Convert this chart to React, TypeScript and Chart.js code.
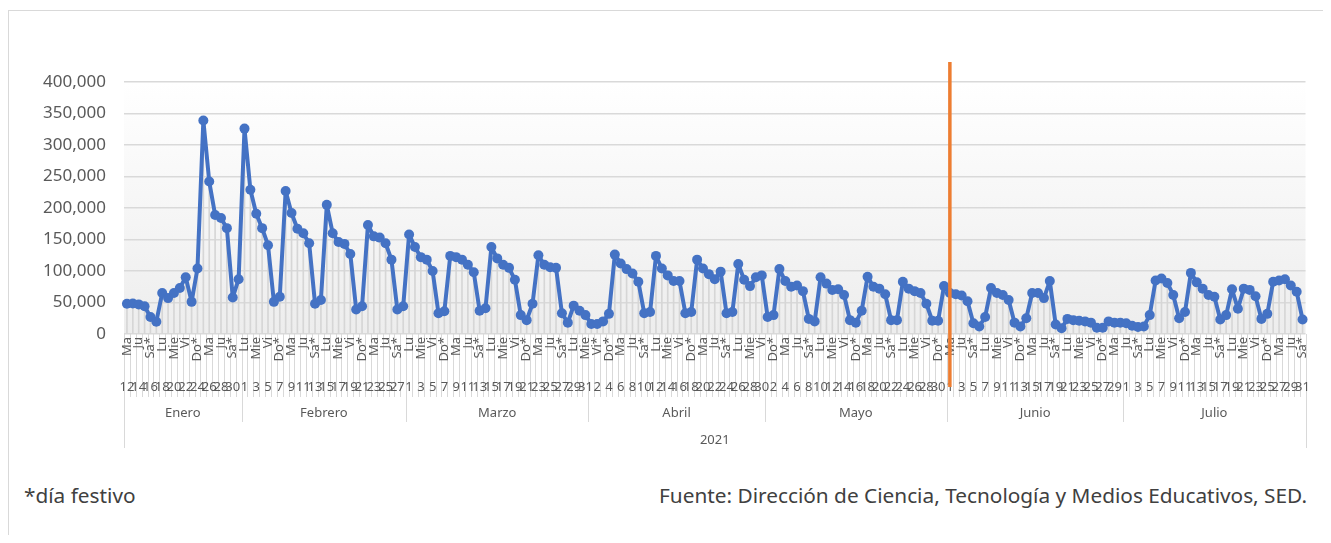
import React, { useEffect, useRef } from 'react';
import { Chart, registerables } from 'chart.js';

Chart.register(...registerables);

// ---------- categories ----------
const YEAR = '2021';
const MONTH_NAMES = ['Enero', 'Febrero', 'Marzo', 'Abril', 'Mayo', 'Junio', 'Julio'];
const MONTH_INDEX = [0, 1, 2, 3, 4, 5, 6];
const MONTH_FIRST_DAY = [12, 1, 1, 1, 1, 1, 1];
const MONTH_LAST_DAY = [31, 28, 31, 30, 31, 30, 31];
// indexed by Date.getDay()
const WEEKDAY_NAMES = ['Do*', 'Lu', 'Ma', 'Mie', 'Ju', 'Vi', 'Sa*'];
// weekday holidays whose label carries an asterisk
const FESTIVOS = ['4-2'];
// category that carries the vertical orange marker
const MARKER = { month: 5, day: 1 };

// ---------- series values (daily) ----------
const ENERO = [48000, 48500, 47000, 44000, 27000, 19500, 65000, 57000, 65000, 73000, 90000, 51000, 104000, 339000, 242000, 189000, 184000, 168000, 58000, 87000];
const FEBRERO = [326000, 229000, 191000, 168000, 141000, 51000, 59000, 227000, 192000, 167000, 160000, 144000, 48000, 54000, 205000, 160000, 146000, 143000, 127000, 39000, 44000, 173000, 155000, 153000, 144000, 118000, 39000, 44000];
const MARZO = [158000, 138000, 122000, 118000, 100000, 33000, 36000, 124000, 122000, 118000, 110000, 98000, 37000, 41000, 138000, 120000, 110000, 105000, 86000, 30000, 22000, 48000, 125000, 110000, 106000, 105000, 33000, 18000, 45000, 37000, 30000];
const ABRIL = [16000, 16000, 20000, 32000, 126000, 112000, 103000, 96000, 83000, 33000, 35000, 124000, 104000, 93000, 84000, 84000, 33000, 35000, 118000, 104000, 95000, 87000, 99000, 33000, 35000, 111000, 86000, 76000, 90000, 93000];
const MAYO = [27000, 30000, 103000, 84000, 75000, 77000, 68000, 24000, 20000, 90000, 80000, 70000, 71000, 62000, 22000, 18000, 37000, 91000, 75000, 72000, 63000, 22000, 22000, 83000, 72000, 68000, 65000, 48000, 21000, 21000, 76000];
const JUNIO = [65000, 63000, 61000, 52000, 17000, 12000, 27000, 73000, 65000, 62000, 54000, 18000, 12000, 25000, 65000, 65000, 57000, 84000, 15000, 9000, 24000, 22000, 21000, 20000, 18000, 10000, 10000, 20000, 18000, 18000];
const JULIO = [17000, 13000, 11000, 12000, 30000, 85000, 88000, 81000, 62000, 25000, 35000, 97000, 82000, 72000, 62000, 59000, 23000, 30000, 71000, 40000, 72000, 70000, 60000, 24000, 32000, 83000, 85000, 87000, 77000, 67000, 23000];

// ---------- y axis ----------
const Y_MIN = 0;
const Y_MAX = 400000;
const Y_STEP = 50000;

const VALUES = [...ENERO, ...FEBRERO, ...MARZO, ...ABRIL, ...MAYO, ...JUNIO, ...JULIO];

type Cat = { day: number; name: string; month: number };
const CATS: Cat[] = [];
MONTH_INDEX.forEach((m) => {
  for (let d = MONTH_FIRST_DAY[m]; d <= MONTH_LAST_DAY[m]; d++) {
    const wd = new Date(Number(YEAR), m, d).getDay();
    let name = WEEKDAY_NAMES[wd];
    if (FESTIVOS.includes(`${m + 1}-${d}`) && !name.endsWith('*')) name += '*';
    CATS.push({ day: d, name, month: m });
  }
});
const LABELS = CATS.map((c) => `${c.day}/${c.month + 1}`);
const MARKER_INDEX = CATS.findIndex((c) => c.month === MARKER.month && c.day === MARKER.day);

const FONT = "'Noto Sans', 'Open Sans', sans-serif";
const TEXT = '#595959';
const LINE_GREY = '#d9d9d9';

const axisPlugin = {
  id: 'multiLevelAxis',
  beforeDraw(chart: any) {
    const { ctx, chartArea } = chart;
    const { left, right, top, bottom } = chartArea;
    const g = ctx.createLinearGradient(0, top, 0, bottom);
    g.addColorStop(0, '#ffffff');
    g.addColorStop(1, '#ededed');
    ctx.save();
    ctx.fillStyle = g;
    ctx.fillRect(left, top, right - left, bottom - top);
    ctx.restore();
  },
  afterDraw(chart: any) {
    const { ctx } = chart;
    const xs = chart.scales.x;
    const n = CATS.length;
    const base = chart.chartArea.bottom;
    const step = xs.getPixelForValue(1) - xs.getPixelForValue(0);
    const edge = (i: number) => xs.getPixelForValue(i) - step / 2;

    const rowTickEnd = base + 63;
    const rowMonthEnd = base + 88;
    const rowYearEnd = base + 114;

    ctx.save();
    ctx.strokeStyle = LINE_GREY;
    ctx.lineWidth = 1;
    // separators between every category (day rows)
    for (let i = 0; i <= n; i++) {
      const px = Math.round(edge(i)) + 0.5;
      ctx.beginPath();
      ctx.moveTo(px, base);
      ctx.lineTo(px, rowTickEnd);
      ctx.stroke();
    }
    // month separators
    const monthStarts: number[] = [];
    CATS.forEach((c, i) => {
      if (i === 0 || CATS[i - 1].month !== c.month) monthStarts.push(i);
    });
    const bounds = [...monthStarts, n];
    bounds.forEach((b) => {
      const px = Math.round(edge(b)) + 0.5;
      ctx.beginPath();
      ctx.moveTo(px, rowTickEnd);
      ctx.lineTo(px, rowMonthEnd);
      ctx.stroke();
    });
    // year separators (outer edges)
    [0, n].forEach((b) => {
      const px = Math.round(edge(b)) + 0.5;
      ctx.beginPath();
      ctx.moveTo(px, rowMonthEnd);
      ctx.lineTo(px, rowYearEnd);
      ctx.stroke();
    });

    ctx.fillStyle = TEXT;
    // day names (rotated) and day numbers, every other category
    CATS.forEach((c, i) => {
      if (i % 2 !== 0) return;
      const cx = xs.getPixelForValue(i);
      ctx.save();
      ctx.translate(cx, base + 3);
      ctx.rotate(-Math.PI / 2);
      ctx.font = `13px ${FONT}`;
      ctx.textAlign = 'right';
      ctx.textBaseline = 'middle';
      ctx.fillText(c.name, 0, 0);
      ctx.restore();
      ctx.font = `13px ${FONT}`;
      ctx.textAlign = 'center';
      ctx.textBaseline = 'middle';
      ctx.fillText(String(c.day), cx, base + 53);
    });
    // month names
    ctx.font = `13px ${FONT}`;
    ctx.textAlign = 'center';
    ctx.textBaseline = 'middle';
    monthStarts.forEach((s, k) => {
      const e = bounds[k + 1];
      const cx = (edge(s) + edge(e)) / 2;
      ctx.fillText(MONTH_NAMES[CATS[s].month], cx, base + 79);
    });
    // year
    ctx.fillText(YEAR, (edge(0) + edge(n)) / 2, base + 106);

    // orange marker line
    if (MARKER_INDEX >= 0) {
      const mx = xs.getPixelForValue(MARKER_INDEX);
      ctx.strokeStyle = '#ED7D31';
      ctx.lineWidth = 3.5;
      ctx.beginPath();
      ctx.moveTo(mx, chart.chartArea.top - 20);
      ctx.lineTo(mx, base + 53);
      ctx.stroke();
    }
    ctx.restore();
  },
};

export default function App() {
  const ref = useRef<HTMLCanvasElement | null>(null);

  useEffect(() => {
    if (!ref.current) return;
    const chart = new Chart(ref.current, {
      type: 'bar',
      data: {
        labels: LABELS,
        datasets: [
          {
            type: 'line',
            data: VALUES,
            borderColor: '#4472C4',
            backgroundColor: '#4472C4',
            borderWidth: 4,
            borderJoinStyle: 'round',
            borderCapStyle: 'round',
            pointRadius: 5,
            pointBackgroundColor: '#4472C4',
            pointBorderWidth: 0,
            tension: 0,
            order: 1,
          } as any,
          {
            type: 'bar',
            data: VALUES,
            backgroundColor: '#d6d6d6',
            barThickness: 1,
            order: 2,
          } as any,
        ],
      },
      options: {
        responsive: false,
        animation: false,
        layout: { padding: { left: 0, right: 17.5, top: 74, bottom: 0 } },
        plugins: { legend: { display: false }, tooltip: { enabled: false } },
        scales: {
          x: {
            type: 'category',
            offset: true,
            grid: { display: false },
            ticks: { display: false },
            border: { display: false },
            afterFit: (s: any) => {
              s.height = 134;
            },
          },
          y: {
            min: Y_MIN,
            max: Y_MAX,
            ticks: {
              stepSize: Y_STEP,
              padding: 18,
              color: TEXT,
              font: { family: FONT, size: 17 },
              callback: (v: any) => Number(v).toLocaleString('en-US'),
            },
            grid: { color: LINE_GREY, lineWidth: 1.5, drawTicks: false },
            border: { display: false },
            afterFit: (s: any) => {
              s.width = 116;
            },
          },
        },
      } as any,
      plugins: [axisPlugin],
    });
    return () => chart.destroy();
  }, []);

  return (
    <div style={{ position: 'relative', width: 1315, height: 527, overflow: 'hidden' }}>
      <div
        style={{
          position: 'absolute',
          left: 0,
          top: 2,
          width: 1316,
          height: 600,
          border: '1px solid #d9d9d9',
          boxSizing: 'border-box',
        }}
      />
      <canvas ref={ref} width={1315} height={460} style={{ position: 'absolute', left: 0, top: 0, width: 1315, height: 460 }} />
      <div
        style={{
          position: 'absolute',
          left: 16,
          top: 473,
          fontFamily: FONT,
          fontSize: 20.8,
          color: '#404040',
          whiteSpace: 'nowrap',
        }}
      >
        *día festivo
      </div>
      <div
        style={{
          position: 'absolute',
          right: 16,
          top: 473,
          fontFamily: FONT,
          fontSize: 20.8,
          color: '#404040',
          whiteSpace: 'nowrap',
        }}
      >
        Fuente: Dirección de Ciencia, Tecnología y Medios Educativos, SED.
      </div>
    </div>
  );
}
